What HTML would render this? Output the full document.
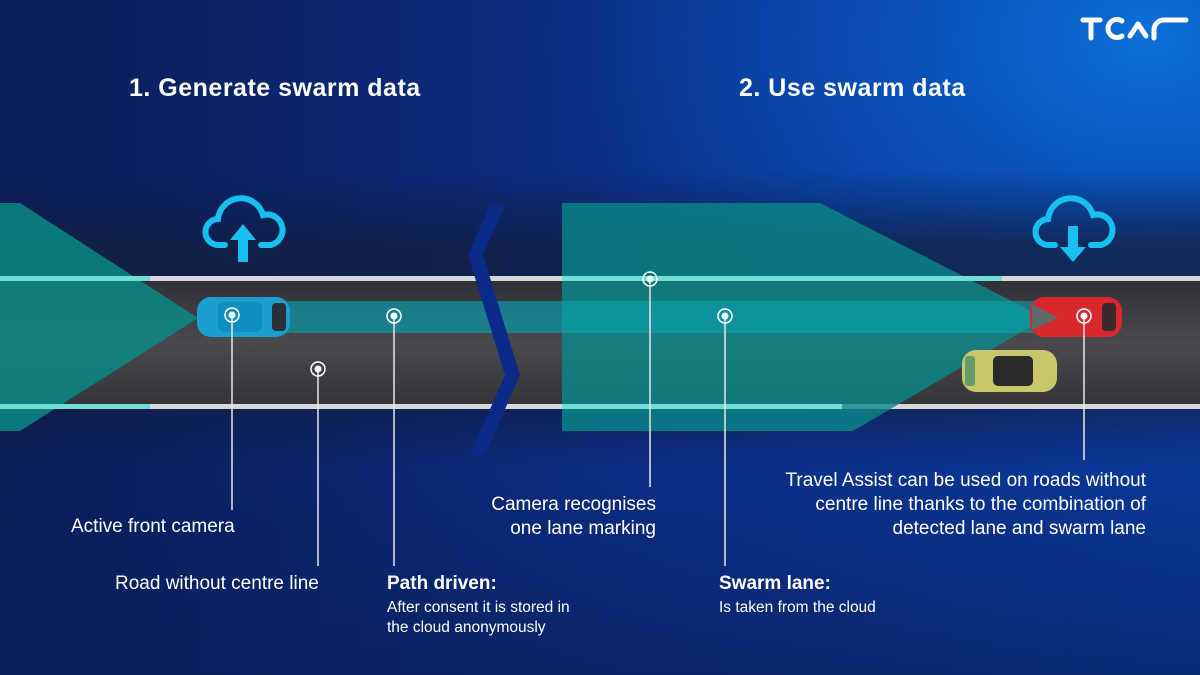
<!DOCTYPE html>
<html><head><meta charset="utf-8"><style>
html,body{margin:0;padding:0}
body{width:1200px;height:675px;overflow:hidden;position:relative;font-family:"Liberation Sans",sans-serif;color:#fff;
background:radial-gradient(ellipse 600px 420px at 1150px 40px,#0a70d8 0%,#0a50b8 40%,rgba(10,50,150,0) 100%),linear-gradient(90deg,#0b1d58 0%,#0b2e86 55%,#0a3a9e 100%);}
.t{position:absolute;white-space:nowrap}
h1{position:absolute;margin:0;font-size:25px;font-weight:bold;letter-spacing:0.5px}
.s{font-size:19px}
.b{font-size:19px;font-weight:bold}
.sm{font-size:15.5px;line-height:20px}
</style></head><body>
<svg width="1200" height="675" style="position:absolute;left:0;top:0">
<defs>
<linearGradient id="road" x1="0" y1="0" x2="0" y2="1"><stop offset="0" stop-color="#2e2f36"/><stop offset="0.5" stop-color="#4a4a4e"/><stop offset="1" stop-color="#333438"/></linearGradient>
<linearGradient id="dark" x1="0" y1="0" x2="0" y2="1"><stop offset="0" stop-color="#0b1d4a" stop-opacity="0"/><stop offset="0.25" stop-color="#141f3e"/><stop offset="0.75" stop-color="#141f3e"/><stop offset="1" stop-color="#0b1d4a" stop-opacity="0"/></linearGradient>
<linearGradient id="bot" x1="0" y1="0" x2="0" y2="1"><stop offset="0" stop-color="#08205a" stop-opacity="0"/><stop offset="1" stop-color="#08205a" stop-opacity="0.6"/></linearGradient>
</defs>
<rect x="0" y="450" width="1200" height="225" fill="url(#bot)"/>
<rect x="0" y="170" width="1200" height="300" fill="url(#dark)" opacity="0.75"/>
<rect x="0" y="280" width="1200" height="126" fill="url(#road)"/>
<rect x="0" y="276" width="1200" height="5" fill="#d8d8dc"/>
<rect x="0" y="404" width="1200" height="5" fill="#d8d8dc"/>
<polygon points="0,203 20,203 198,318 20,431 0,431" fill="#0a8a86" opacity="0.85"/>
<rect x="0" y="276" width="150" height="5" fill="#6ee0d6"/>
<rect x="0" y="404" width="150" height="5" fill="#6ee0d6"/>
<rect x="240" y="301" width="322" height="32" fill="#0a9aa8" opacity="0.7"/>
<polygon points="490,205 505,205 483,255 520,375 485,455 470,455 505,375 468,255" fill="#0a2a8a"/>
<polygon points="562,203 820,203 1045,318 853,431 562,431" fill="#0a8a8a" opacity="0.8"/>
<rect x="562" y="301" width="475" height="32" fill="#0aa8b4" opacity="0.55"/>
<rect x="562" y="276" width="440" height="5" fill="#6ee0d6"/>
<rect x="562" y="404" width="280" height="5" fill="#6ee0d6"/>
<rect x="197" y="297" width="93" height="40" rx="14" fill="#1aa0d0"/>
<rect x="218" y="302" width="44" height="30" rx="6" fill="#0f8fc0"/>
<rect x="272" y="303" width="14" height="28" rx="4" fill="#2a3038"/>
<rect x="1030" y="297" width="92" height="40" rx="14" fill="#d8282e"/>
<polygon points="1032,304 1058,318 1032,330" fill="#0a9a96" opacity="0.6"/>
<rect x="1102" y="303" width="14" height="28" rx="4" fill="#3a2a2e"/>
<rect x="962" y="350" width="95" height="42" rx="14" fill="#c8c86a"/>
<rect x="993" y="356" width="40" height="30" rx="5" fill="#2a2a2a"/>
<rect x="965" y="356" width="10" height="30" rx="3" fill="#3a8a6a" opacity="0.7"/>
<g fill="none" stroke="#16c0f0" stroke-width="6" stroke-linecap="round">
<path d="M225,245 h-6 a13,13 0 0 1 -1,-26 a23,23 0 0 1 45,-4 a14,14 0 0 1 8,30 h-10"/>
<path d="M1055,245 h-6 a13,13 0 0 1 -1,-26 a23,23 0 0 1 45,-4 a14,14 0 0 1 8,30 h-10"/>
</g>
<polygon points="243,224 256,240 248,240 248,262 238,262 238,240 230,240" fill="#16c0f0"/>
<polygon points="1068,226 1078,226 1078,247 1086,247 1073,262 1060,247 1068,247" fill="#16c0f0"/>
<g stroke="#e8e8e8" stroke-width="1.5">
<line x1="232" y1="315" x2="232" y2="510"/>
<line x1="318" y1="369" x2="318" y2="566"/>
<line x1="394" y1="316" x2="394" y2="566"/>
<line x1="650" y1="279" x2="650" y2="487"/>
<line x1="725" y1="316" x2="725" y2="566"/>
<line x1="1084" y1="316" x2="1084" y2="460"/>
</g>
<g fill="none" stroke="#fff" stroke-width="1.5">
<circle cx="232" cy="315" r="7"/><circle cx="318" cy="369" r="7"/><circle cx="394" cy="316" r="7"/>
<circle cx="650" cy="279" r="7"/><circle cx="725" cy="316" r="7"/><circle cx="1084" cy="316" r="7"/>
</g>
<g fill="#fff">
<circle cx="232" cy="315" r="3.5"/><circle cx="318" cy="369" r="3.5"/><circle cx="394" cy="316" r="3.5"/>
<circle cx="650" cy="279" r="3.5"/><circle cx="725" cy="316" r="3.5"/><circle cx="1084" cy="316" r="3.5"/>
</g>
<g fill="none" stroke="#fff" stroke-width="5" stroke-linecap="round" stroke-linejoin="round">
<path d="M1083,20 h17 M1091,20 v18"/>
<path d="M1122,21 a9,9 0 1 0 0,15"/>
<path d="M1130,36 l8,-12 l8,12"/>
<path d="M1154,38 v-8 a10,10 0 0 1 10,-10 h22"/>
</g>
</svg>
<h1 style="left:129px;top:74px">1. Generate swarm data</h1>
<h1 style="left:739px;top:74px">2. Use swarm data</h1>
<div class="t s" style="left:71px;top:516px">Active front camera</div>
<div class="t s" style="left:115px;top:573px">Road without centre line</div>
<div class="t b" style="left:387px;top:573px">Path driven:</div>
<div class="t sm" style="left:387px;top:598px">After consent it is stored in<br>the cloud anonymously</div>
<div class="t s" style="right:544px;top:493px;text-align:right;line-height:24px">Camera recognises<br>one lane marking</div>
<div class="t b" style="left:719px;top:573px">Swarm lane:</div>
<div class="t sm" style="left:719px;top:598px">Is taken from the cloud</div>
<div class="t s" style="right:54px;top:469px;text-align:right;line-height:24px">Travel Assist can be used on roads without<br>centre line thanks to the combination of<br>detected lane and swarm lane</div>
</body></html>
